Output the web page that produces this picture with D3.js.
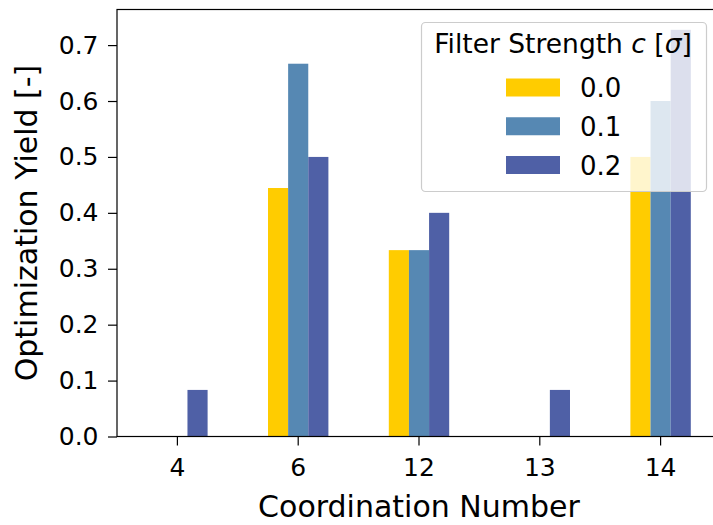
<!DOCTYPE html>
<html>
<head>
<meta charset="utf-8">
<script src="https://cdn.jsdelivr.net/npm/d3@7"></script>
<style>
  body { margin: 0; background: #fff; }
  svg { display: block; font-family: "DejaVu Sans", sans-serif; }
</style>
</head>
<body>
<script>
// data
var categories = ['4', '6', '12', '13', '14'];
var series = ['0.0', '0.1', '0.2'];
var yield_c00 = [0, 0.4444, 0.3333, 0, 0.5];
var yield_c01 = [0, 0.6667, 0.3333, 0, 0.6];
var yield_c02 = [0.0833, 0.5, 0.4, 0.0833, 0.7273];
var y_ticks = [0.0, 0.1, 0.2, 0.3, 0.4, 0.5, 0.6, 0.7];
var colors = ['#ffcc00', '#5688b3', '#4f60a6'];

var all_yields = [yield_c00, yield_c01, yield_c02];

// plot box
var pl = 117, pr = 721, pt = 9.5, pb = 436.5;

var svg = d3.select('body').append('svg')
	.attr('width', 713)
	.attr('height', 525);

var x = d3.scaleBand().domain(categories).range([pl, pr]).padding(0);
var step = x.bandwidth();
var x1 = d3.scaleBand().domain(series).range([step / 4, step * 3 / 4]).padding(0);

var y_max = d3.max(all_yields, d => d3.max(d)) * 1.05;
var y = d3.scaleLinear().domain([0, y_max]).range([pb, pt]);

// bars
var bar_data = [];
series.forEach((s, i) => {
	categories.forEach((c, j) => {
		bar_data.push({ s: s, c: c, v: all_yields[i][j], color: colors[i] });
	});
});

svg.append('g').attr('id', 'bars')
	.selectAll('rect').data(bar_data)
	.enter().append('rect')
		.attr('x', d => x(d.c) + x1(d.s))
		.attr('width', x1.bandwidth())
		.attr('y', d => y(d.v))
		.attr('height', d => y(0) - y(d.v))
		.attr('fill', d => d.color);

// axes
var xaxis = svg.append('g')
	.attr('transform', 'translate(0,' + pb + ')')
	.call(d3.axisBottom(x).tickSize(9).tickPadding(13).tickSizeOuter(0));
var yaxis = svg.append('g')
	.attr('transform', 'translate(' + pl + ',0)')
	.call(d3.axisLeft(y).tickValues(y_ticks).tickFormat(d3.format('.1f')).tickSize(9).tickPadding(9.5).tickSizeOuter(0));

[xaxis, yaxis].forEach(a => {
	a.attr('font-size', 25).attr('font-family', '"DejaVu Sans"');
	a.selectAll('text').attr('fill', '#000');
	a.selectAll('line').attr('stroke', '#000').attr('stroke-width', 1.2);
	a.select('.domain').remove();
});

// frame (right edge falls outside the picture)
svg.append('rect')
	.attr('x', pl).attr('y', pt)
	.attr('width', pr - pl).attr('height', pb - pt)
	.attr('fill', 'none').attr('stroke', '#000').attr('stroke-width', 1.2);

// axis labels
svg.append('text').text('Coordination Number')
	.attr('x', (pl + pr) / 2).attr('y', 517)
	.attr('text-anchor', 'middle').attr('font-size', 30);
svg.append('text').text('Optimization Yield [-]')
	.attr('transform', 'translate(37,' + ((pt + pb) / 2) + ') rotate(-90)')
	.attr('text-anchor', 'middle').attr('font-size', 30);

// legend
var leg = svg.append('g').attr('id', 'legend');
leg.append('rect')
	.attr('x', 421.5).attr('y', 22.5).attr('width', 285).attr('height', 169)
	.attr('rx', 4).attr('ry', 4)
	.attr('fill', '#fff').attr('fill-opacity', 0.8)
	.attr('stroke', '#cccccc').attr('stroke-width', 1.2);

var title = leg.append('text')
	.attr('x', 563).attr('y', 53)
	.attr('text-anchor', 'middle').attr('font-size', 26.5);
title.append('tspan').text('Filter Strength ');
title.append('tspan').text('c').attr('font-style', 'italic');
title.append('tspan').text(' [');
title.append('tspan').text('σ').attr('font-style', 'italic');
title.append('tspan').text(']');

var row = d3.scaleLinear().domain([0, 2]).range([87.5, 165]);
series.forEach((s, i) => {
	leg.append('rect')
		.attr('x', 506).attr('y', row(i) - 9)
		.attr('width', 54).attr('height', 18)
		.attr('fill', colors[i]);
	leg.append('text').text(s)
		.attr('x', 580).attr('y', row(i) + 9.5)
		.attr('font-size', 26);
});
</script>
</body>
</html>
